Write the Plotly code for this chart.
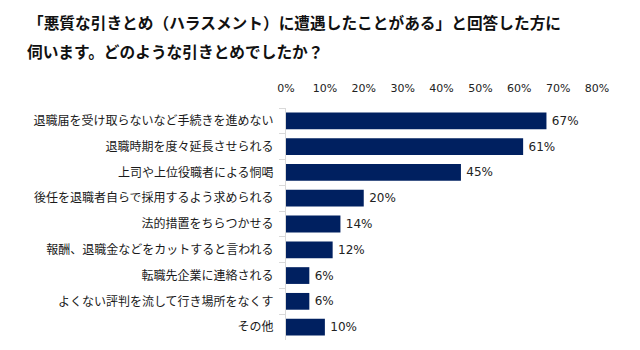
import plotly.graph_objects as go

categories = [
    "退職届を受け取らないなど手続きを進めない",
    "退職時期を度々延長させられる",
    "上司や上位役職者による恫喝",
    "後任を退職者自らで採用するよう求められる",
    "法的措置をちらつかせる",
    "報酬、退職金などをカットすると言われる",
    "転職先企業に連絡される",
    "よくない評判を流して行き場所をなくす",
    "その他",
]
values = [0.67, 0.61, 0.45, 0.20, 0.14, 0.12, 0.06, 0.06, 0.10]
tick_vals = [0, 0.1, 0.2, 0.3, 0.4, 0.5, 0.6, 0.7, 0.8]
tick_text = ["0%", "10%", "20%", "30%", "40%", "50%", "60%", "70%", "80%"]
title_lines = [
    "「悪質な引きとめ（ハラスメント）に遭遇したことがある」と回答した方に",
    "伺います。どのような引きとめでしたか？",
]

W, H = 640, 350
ML, MR, MT, MB = 286, 43, 108, 10

fig = go.Figure(go.Bar(
    x=values,
    y=categories,
    orientation="h",
    marker=dict(color="#002060", line=dict(width=0)),
    width=0.65,
    text=[f"\u2009{round(v*100)}%" for v in values],
    textposition="outside",
    textfont=dict(family="DejaVu Sans", size=12, color="#222222"),
    cliponaxis=False,
))

fig.update_layout(
    width=W, height=H,
    margin=dict(l=ML, r=MR, t=MT, b=MB, pad=0),
    paper_bgcolor="white", plot_bgcolor="white",
    showlegend=False,
    font=dict(family="Noto Sans CJK JP", color="#222222"),
    xaxis=dict(
        side="top", range=[0, 0.8], tickvals=tick_vals, ticktext=tick_text,
        showgrid=False, zeroline=False, showline=False, ticks="",
        tickfont=dict(family="DejaVu Sans", size=11, color="#222222"),
        ticklabelstandoff=13,
    ),
    yaxis=dict(
        autorange="reversed", showgrid=False, showline=True,
        linecolor="#d9d9d9", linewidth=1,
        ticks="outside", tickson="boundaries", ticklen=6, tickcolor="#d9d9d9",
        tickfont=dict(family="Noto Sans CJK JP", size=12, color="#1a1a1a"),
        ticklabelstandoff=9,
    ),
)

for line, ypix, xpix in zip(title_lines, [23, 52], [26, 25]):
    fig.add_annotation(
        text=f"<b>{line}</b>", xref="paper", yref="paper",
        x=(xpix - ML) / (W - ML - MR), y=1 + (MT - ypix) / (H - MT - MB),
        xanchor="left", yanchor="middle", showarrow=False,
        font=dict(family="Noto Sans CJK JP", size=15.7, color="#111111"),
    )

fig.write_html("out.html")
